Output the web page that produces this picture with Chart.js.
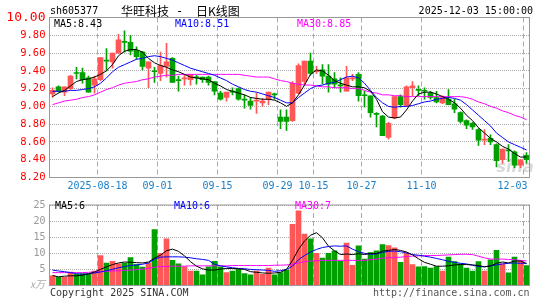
<!DOCTYPE html>
<html>
<head>
<meta charset="utf-8">
<script src="https://cdn.jsdelivr.net/npm/chart.js@4/dist/chart.umd.min.js"></script>
<style>
  html, body { margin: 0; padding: 0; background: #fff; }
  #wrap { position: relative; width: 545px; height: 300px; }
  #kc { position: absolute; left: 0; top: 0; }
  #vc { position: absolute; left: 0; top: 195px; }
</style>
</head>
<body>
<div id="wrap">
  <canvas id="kc" width="545" height="195"></canvas>
  <canvas id="vc" width="545" height="105"></canvas>
</div>
<script>
// trading days 2025-08-06 .. 2025-12-03
const dates = [
  '08-06','08-07','08-08','08-11','08-12','08-13','08-14','08-15',
  '08-18','08-19','08-20','08-21','08-22','08-25','08-26','08-27','08-28','08-29',
  '09-01','09-02','09-03','09-04','09-05','09-08','09-09','09-10','09-11','09-12',
  '09-15','09-16','09-17','09-18','09-19','09-22','09-23','09-24','09-25','09-26',
  '09-29','09-30','10-09','10-10','10-13','10-14',
  '10-15','10-16','10-17','10-20','10-21','10-22','10-23','10-24',
  '10-27','10-28','10-29','10-30','10-31','11-03','11-04','11-05','11-06','11-07',
  '11-10','11-11','11-12','11-13','11-14','11-17','11-18','11-19','11-20','11-21',
  '11-24','11-25','11-26','11-27','11-28','12-01','12-02','12-03'
];

const open = [9.14,9.22,9.16,9.20,9.38,9.38,9.32,9.24,9.30,9.52,
  9.50,9.60,9.73,9.72,9.63,9.61,9.43,9.40,9.37,9.45,
  9.54,9.30,9.31,9.30,9.33,9.33,9.33,9.28,9.15,9.10,
  9.17,9.20,9.08,9.06,9.06,9.04,9.08,9.14,8.88,8.88,
  8.84,9.15,9.28,9.51,9.39,9.41,9.34,9.31,9.24,9.17,
  9.31,9.36,9.13,9.12,8.92,8.89,8.65,8.87,9.11,9.01,
  9.21,9.19,9.18,9.15,9.10,9.04,9.08,9.03,8.93,8.84,
  8.81,8.74,8.62,8.64,8.57,8.40,8.51,8.49,8.34,8.45];
const high = [9.21,9.23,9.22,9.35,9.44,9.43,9.34,9.34,9.55,9.65,
  9.60,9.81,9.85,9.80,9.67,9.62,9.50,9.44,9.61,9.71,
  9.55,9.34,9.35,9.36,9.35,9.33,9.34,9.28,9.17,9.16,
  9.21,9.21,9.13,9.10,9.15,9.09,9.16,9.15,8.96,8.96,
  9.28,9.48,9.51,9.60,9.45,9.47,9.47,9.38,9.32,9.45,
  9.36,9.38,9.17,9.12,8.93,8.90,8.82,9.11,9.13,9.23,
  9.28,9.23,9.21,9.17,9.17,9.12,9.19,9.08,8.94,8.85,
  8.82,8.75,8.74,8.68,8.58,8.52,8.57,8.50,8.40,8.48];
const low = [9.10,9.16,9.12,9.19,9.31,9.26,9.16,9.15,9.29,9.40,
  9.43,9.60,9.61,9.58,9.53,9.41,9.21,9.27,9.29,9.33,
  9.27,9.17,9.24,9.24,9.25,9.27,9.24,9.13,9.07,9.06,
  9.13,9.07,8.98,8.97,8.92,9.00,9.02,9.08,8.75,8.73,
  8.83,9.14,9.25,9.35,9.37,9.25,9.16,9.21,9.16,9.17,
  9.29,9.06,8.99,8.88,8.77,8.67,8.63,8.86,8.99,9.00,
  9.12,9.12,9.08,9.08,9.04,9.03,9.02,8.93,8.81,8.75,
  8.74,8.56,8.57,8.57,8.32,8.36,8.38,8.31,8.31,8.36];
const close = [9.18,9.17,9.22,9.34,9.37,9.30,9.16,9.31,9.55,9.51,
  9.60,9.75,9.72,9.62,9.56,9.45,9.50,9.39,9.46,9.50,
  9.27,9.29,9.32,9.36,9.32,9.30,9.27,9.17,9.08,9.16,
  9.16,9.08,9.07,9.01,9.07,9.06,9.16,9.13,8.83,8.83,
  9.26,9.46,9.51,9.37,9.40,9.34,9.25,9.25,9.23,9.32,
  9.32,9.12,9.12,8.93,8.91,8.67,8.81,9.11,9.02,9.22,
  9.23,9.18,9.17,9.10,9.05,9.10,9.02,8.97,8.83,8.79,
  8.77,8.62,8.63,8.60,8.39,8.52,8.50,8.34,8.40,8.40];

// moving averages as drawn on the chart
const ma5 = [9.11,9.15,9.18,9.23,9.28,9.30,9.31,9.33,9.36,9.40,
  9.47,9.57,9.62,9.64,9.64,9.61,9.54,9.49,9.46,9.44,
  9.41,9.39,9.36,9.33,9.32,9.31,9.30,9.26,9.23,9.19,
  9.17,9.15,9.13,9.10,9.09,9.08,9.08,9.07,9.04,9.00,
  9.04,9.13,9.24,9.36,9.41,9.40,9.35,9.29,9.26,9.24,
  9.22,9.22,9.21,9.17,9.08,8.94,8.88,8.87,8.88,8.96,
  9.06,9.14,9.16,9.16,9.14,9.11,9.08,9.04,8.98,8.90,
  8.84,8.76,8.70,8.64,8.60,8.55,8.52,8.47,8.43,8.43];
const ma10 = [9.17,9.17,9.17,9.18,9.18,9.19,9.20,9.22,9.26,9.32,
  9.39,9.44,9.47,9.50,9.53,9.54,9.56,9.57,9.56,9.54,
  9.52,9.49,9.46,9.43,9.41,9.39,9.37,9.35,9.32,9.29,
  9.25,9.22,9.19,9.17,9.16,9.14,9.12,9.10,9.07,9.04,
  9.04,9.10,9.15,9.20,9.23,9.24,9.26,9.27,9.30,9.33,
  9.34,9.32,9.26,9.18,9.10,9.04,9.00,8.99,9.00,9.00,
  9.01,9.03,9.05,9.06,9.08,9.09,9.10,9.09,9.07,9.02,
  8.96,8.90,8.84,8.78,8.70,8.65,8.60,8.57,8.54,8.51];
const ma30 = [9.02,9.04,9.06,9.07,9.08,9.10,9.11,9.13,9.16,9.19,
  9.21,9.24,9.26,9.27,9.28,9.30,9.31,9.33,9.34,9.35,
  9.35,9.36,9.36,9.36,9.36,9.36,9.36,9.36,9.36,9.36,
  9.36,9.36,9.35,9.34,9.33,9.33,9.33,9.31,9.29,9.28,
  9.26,9.25,9.24,9.24,9.23,9.22,9.22,9.21,9.21,9.21,
  9.20,9.20,9.18,9.16,9.15,9.13,9.13,9.12,9.12,9.11,
  9.11,9.11,9.11,9.11,9.11,9.11,9.11,9.11,9.11,9.10,
  9.08,9.05,9.03,9.00,8.98,8.95,8.93,8.90,8.88,8.85];

// volume, 万手
const volume = [3.0,2.5,2.5,4.2,3.5,3.7,3.5,4.5,9.3,7.0,
  7.5,6.7,7.0,8.7,6.5,5.7,7.0,17.4,10.0,14.5,
  7.8,6.7,5.8,4.5,4.5,3.3,5.8,7.5,5.8,4.0,
  4.5,5.0,3.7,3.3,4.5,3.5,5.4,3.3,4.0,4.8,
  19.0,23.2,16.0,14.5,10.0,8.5,10.0,10.8,7.5,13.2,
  6.3,12.3,8.2,10.2,10.8,12.7,12.4,11.7,7.2,10.1,
  6.5,5.8,5.9,5.4,5.9,4.5,8.8,7.4,6.7,5.4,
  4.5,7.4,4.5,8.0,10.9,6.7,3.9,8.8,7.7,6.2];
const volMa5 = [3.1,2.7,2.9,3.0,3.0,3.2,3.6,4.2,5.0,5.8,
  6.5,7.0,7.3,7.2,7.1,7.0,7.3,8.5,9.4,10.8,
  11.3,10.6,9.2,7.4,6.0,5.2,4.8,4.8,5.1,5.3,
  5.3,5.2,5.0,4.3,4.1,3.9,3.8,3.9,4.1,5.0,
  7.8,11.2,13.8,15.6,16.4,14.8,12.2,10.8,9.6,9.8,
  9.6,9.9,9.6,10.0,9.9,10.7,10.9,11.2,10.9,10.4,
  9.5,8.3,7.2,6.6,6.0,6.0,6.1,6.4,6.5,6.5,
  6.4,6.2,5.8,6.1,6.9,7.3,7.0,7.6,7.6,6.8];
const volMa10 = [4.8,4.5,4.3,4.0,3.7,3.5,3.7,3.9,4.2,4.6,
  5.0,5.5,5.9,6.2,6.4,6.6,7.0,8.2,8.8,8.9,
  8.9,8.9,8.8,8.6,8.3,8.1,7.8,6.6,6.1,5.8,
  5.5,5.3,5.2,5.0,4.9,4.8,4.7,4.4,4.6,5.0,
  6.0,8.0,9.3,10.4,11.2,11.8,12.1,12.3,12.2,12.3,
  11.3,10.5,10.0,9.7,9.8,10.3,10.6,10.7,10.5,10.1,
  9.6,9.4,9.1,8.8,8.4,8.0,7.5,7.2,6.9,6.7,
  6.3,5.9,5.8,6.1,6.4,6.7,6.9,7.0,6.9,6.9];
const volMa30 = [4.0,4.0,4.0,4.0,4.0,4.0,4.1,4.2,4.3,4.4,
  4.5,4.6,4.7,4.8,4.9,5.1,5.3,5.7,5.9,5.9,
  6.0,6.0,6.0,6.1,6.1,6.1,6.1,6.1,6.1,6.1,
  6.2,6.2,6.2,6.2,6.2,6.2,6.2,6.3,6.3,6.4,
  6.6,7.0,7.4,7.6,7.7,7.8,7.8,7.8,7.8,7.8,
  7.8,7.8,7.8,8.0,8.2,8.5,8.6,8.7,8.8,9.0,
  9.1,9.2,9.3,9.3,9.3,9.4,9.5,9.6,9.7,9.7,
  9.6,9.1,8.6,8.2,8.2,8.2,8.1,8.0,7.8,7.6];

// date ticks on the x axis
const tickDates = ['08-18','09-01','09-15','09-29','10-15','10-27','11-10','12-03'];
const tickLabels = ['2025-08-18','09-01','09-15','09-29','10-15','10-27','11-10','12-03'];

const UP = '#ff5757', DOWN = '#00a000';
const MONO = '"DejaVu Sans Mono", monospace';
const CJK = '"Noto Sans CJK SC", sans-serif';
const tickIdx = tickDates.map(d => dates.indexOf(d));
const candleColor = dates.map((d, i) => close[i] >= open[i] ? UP : DOWN);

function drawText(c, s, x, y, color, font, align) {
  c.fillStyle = color;
  c.font = font;
  c.textAlign = align || 'left';
  c.textBaseline = 'middle';
  c.fillText(s, x, y);
}

function maLine(label, data, color) {
  return { type: 'line', label, data, borderColor: color, borderWidth: 1,
           pointRadius: 0, tension: 0, order: 0 };
}

function xScale() {
  return {
    offset: true,
    grid: { offset: true, drawTicks: false, lineWidth: 1,
            color: ctx => tickIdx.includes(ctx.index) ? '#aaaaaa' : 'rgba(0,0,0,0)' },
    border: { display: false, dash: [5, 3] },
    ticks: { display: false, autoSkip: false },
    afterFit: s => { s.height = 0; }
  };
}

// grey box round the plot area
const framePlugin = {
  id: 'frame',
  afterDraw(chart) {
    const a = chart.chartArea, c = chart.ctx;
    c.save();
    c.strokeStyle = '#999999';
    c.lineWidth = 1;
    c.strokeRect(a.left, a.top, a.right - a.left, a.bottom - a.top);
    c.restore();
  }
};

const priceText = {
  id: 'priceText',
  beforeDatasetsDraw(chart) {
    const c = chart.ctx, a = chart.chartArea;
    c.save();
    drawText(c, 'sina', a.right - 33, a.bottom - 10, 'rgba(170,170,170,0.45)', 'italic bold 16px "DejaVu Sans", sans-serif');
    c.restore();
  },
  afterDraw(chart) {
    const c = chart.ctx, a = chart.chartArea, xs = chart.scales.x;
    c.save();
    drawText(c, 'sh605377', 50, 11.5, '#000', '10px ' + MONO);
    drawText(c, '华旺科技', 121, 11.5, '#000', '12px ' + CJK);
    drawText(c, '-', 176, 11.5, '#000', '12px ' + MONO);
    drawText(c, '日K线图', 196, 11.5, '#000', '12px ' + CJK);
    drawText(c, '2025-12-03 15:00:00', 533, 11.5, '#000', '10px ' + MONO, 'right');

    drawText(c, 'MA5:' + ma5[ma5.length - 1].toFixed(2), 54, 24.5, '#000', '10px ' + MONO);
    drawText(c, 'MA10:' + ma10[ma10.length - 1].toFixed(2), 175, 24.5, '#0000ff', '10px ' + MONO);
    drawText(c, 'MA30:' + ma30[ma30.length - 1].toFixed(2), 297, 24.5, '#ff00ff', '10px ' + MONO);

    // date labels centred on the dashed lines, kept inside the box
    const half = (xs.getPixelForValue(1) - xs.getPixelForValue(0)) / 2;
    c.font = '10px ' + MONO;
    tickIdx.forEach((idx, k) => {
      const w = c.measureText(tickLabels[k]).width;
      let x = xs.getPixelForValue(idx) - half;
      if (x + w / 2 > a.right - 2) x = a.right - 2 - w / 2;
      drawText(c, tickLabels[k], x, 186, '#1a80c8', '10px ' + MONO, 'center');
    });
    c.restore();
  }
};

const volText = {
  id: 'volText',
  afterDraw(chart) {
    const c = chart.ctx, a = chart.chartArea;
    c.save();
    drawText(c, 'MA5:' + Math.floor(volMa5[volMa5.length - 1]), 55, 11.5, '#000', '10px ' + MONO);
    drawText(c, 'MA10:' + Math.floor(volMa10[volMa10.length - 1]), 174, 11.5, '#0000ff', '10px ' + MONO);
    drawText(c, 'MA30:' + Math.floor(volMa30[volMa30.length - 1]), 295, 11.5, '#ff00ff', '10px ' + MONO);
    drawText(c, 'x万', 45, a.bottom - 1, '#aaaaaa', 'italic 10px ' + CJK, 'right');
    drawText(c, 'Copyright 2025 SINA.COM', 50, 98, '#333333', '10px ' + MONO);
    drawText(c, 'http://finance.sina.com.cn', a.right, 98, '#555555', '10px ' + MONO, 'right');
    c.restore();
  }
};

new Chart(document.getElementById('kc'), {
  type: 'bar',
  data: {
    labels: dates,
    datasets: [
      maLine('MA5', ma5, '#000000'),
      maLine('MA10', ma10, '#0000ff'),
      maLine('MA30', ma30, '#ff00ff'),
      { label: 'body', data: dates.map((d, i) => [open[i], close[i]]),
        backgroundColor: candleColor, barThickness: 5, minBarLength: 1,
        grouped: false, order: 1 },
      { label: 'wick', data: dates.map((d, i) => [low[i], high[i]]),
        backgroundColor: candleColor, barThickness: 1,
        grouped: false, order: 2 }
    ]
  },
  options: {
    responsive: false,
    animation: false,
    events: [],
    layout: { padding: { top: 17.5, bottom: 17.5, left: 0, right: 15.5 } },
    plugins: { legend: { display: false }, tooltip: { enabled: false } },
    scales: {
      x: xScale(),
      y: {
        min: 8.2, max: 10,
        ticks: {
          stepSize: 0.2, padding: 4, color: '#ff0000', autoSkip: false,
          font: ctx => ({ family: MONO, size: ctx.tick && Math.abs(ctx.tick.value - 10) < 1e-6 ? 13 : 10.5 }),
          callback: v => Number(v).toFixed(2)
        },
        grid: { drawTicks: false, color: '#aaaaaa', lineWidth: 1 },
        border: { display: false, dash: [1, 1] },
        afterFit: s => { s.width = 49.5; }
      }
    }
  },
  plugins: [framePlugin, priceText]
});

new Chart(document.getElementById('vc'), {
  type: 'bar',
  data: {
    labels: dates,
    datasets: [
      maLine('MA5', volMa5, '#000000'),
      maLine('MA10', volMa10, '#0000ff'),
      maLine('MA30', volMa30, '#ff00ff'),
      { label: 'volume', data: volume, backgroundColor: candleColor,
        barThickness: 5, order: 1 }
    ]
  },
  options: {
    responsive: false,
    animation: false,
    events: [],
    layout: { padding: { top: 6.5, bottom: 14.5, left: 0, right: 15.5 } },
    plugins: { legend: { display: false }, tooltip: { enabled: false } },
    scales: {
      x: xScale(),
      y: {
        min: 0, max: 25,
        ticks: { stepSize: 5, padding: 4, color: '#999999', autoSkip: false,
                 font: { family: MONO, size: 10 },
                 callback: v => v === 0 ? '' : v },
        grid: { drawTicks: false, color: '#aaaaaa', lineWidth: 1 },
        border: { display: false, dash: [1, 1] },
        afterFit: s => { s.width = 49.5; }
      }
    }
  },
  plugins: [framePlugin, volText]
});
</script>
</body>
</html>
